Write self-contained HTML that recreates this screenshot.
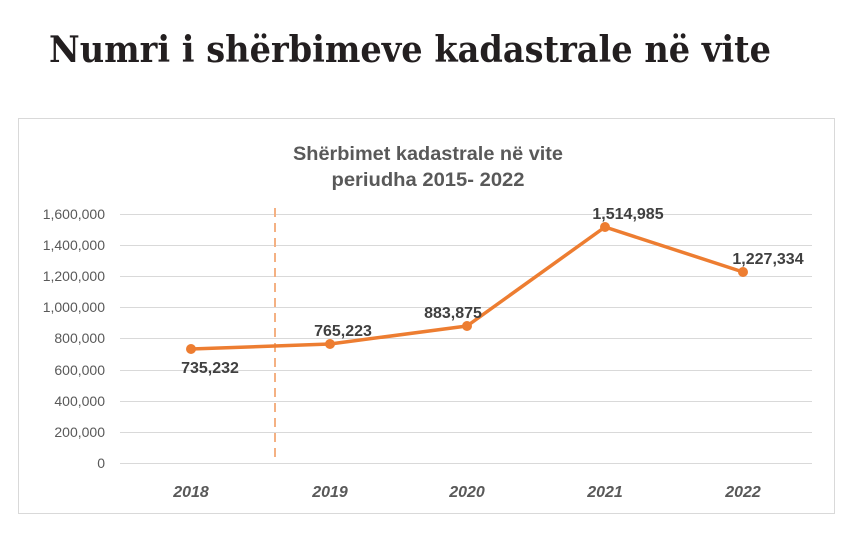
<!DOCTYPE html>
<html><head><meta charset="utf-8"><style>
html,body{margin:0;padding:0;background:#fff;}
svg{display:block;}
</style></head><body>
<svg width="852" height="550" viewBox="0 0 852 550" xmlns="http://www.w3.org/2000/svg">
<rect width="852" height="550" fill="#fff"/>
<text x="410" y="62" text-anchor="middle" font-family="DejaVu Serif, serif" font-weight="bold" font-size="36" fill="#231f20" textLength="722" lengthAdjust="spacingAndGlyphs">Numri i shërbimeve kadastrale në vite</text>
<rect x="18.5" y="118.5" width="816" height="395" fill="#fff" stroke="#d9d9d9" stroke-width="1"/>
<g font-family="Liberation Sans Narrow, Liberation Sans, sans-serif" font-size="19" fill="#595959" text-anchor="middle" font-weight="bold">
<text x="428" y="160" textLength="270" lengthAdjust="spacingAndGlyphs">Shërbimet kadastrale në vite</text>
<text x="428" y="186" textLength="193" lengthAdjust="spacingAndGlyphs">periudha 2015- 2022</text>
</g>
<g stroke="#d9d9d9" stroke-width="1">
<line x1="120" y1="214.5" x2="812" y2="214.5"/>
<line x1="120" y1="245.5" x2="812" y2="245.5"/>
<line x1="120" y1="276.5" x2="812" y2="276.5"/>
<line x1="120" y1="307.5" x2="812" y2="307.5"/>
<line x1="120" y1="338.5" x2="812" y2="338.5"/>
<line x1="120" y1="370.5" x2="812" y2="370.5"/>
<line x1="120" y1="401.5" x2="812" y2="401.5"/>
<line x1="120" y1="432.5" x2="812" y2="432.5"/>
<line x1="120" y1="463.5" x2="812" y2="463.5"/>
</g>
<g font-family="Liberation Sans, sans-serif" font-size="14" fill="#595959" text-anchor="end">
<text x="105" y="219">1,600,000</text>
<text x="105" y="250">1,400,000</text>
<text x="105" y="281">1,200,000</text>
<text x="105" y="312">1,000,000</text>
<text x="105" y="343">800,000</text>
<text x="105" y="375">600,000</text>
<text x="105" y="406">400,000</text>
<text x="105" y="437">200,000</text>
<text x="105" y="468">0</text>
</g>
<line x1="275" y1="208" x2="275" y2="458" stroke="#f4b183" stroke-width="2" stroke-dasharray="9,6"/>
<polyline points="191,349 330,344 467,326 605,227 743,272" fill="none" stroke="#ed7d31" stroke-width="3.5" stroke-linejoin="round"/>
<g fill="#ed7d31">
<circle cx="191" cy="349" r="5"/><circle cx="330" cy="344" r="5"/><circle cx="467" cy="326" r="5"/><circle cx="605" cy="227" r="5"/><circle cx="743" cy="272" r="5"/>
</g>
<g font-family="Liberation Sans, sans-serif" font-size="16" font-weight="bold" fill="#404040" text-anchor="middle">
<text x="210" y="373">735,232</text>
<text x="343" y="336">765,223</text>
<text x="453" y="318">883,875</text>
<text x="628" y="219">1,514,985</text>
<text x="768" y="264">1,227,334</text>
</g>
<g font-family="Liberation Sans, sans-serif" font-size="16" font-weight="bold" font-style="italic" fill="#595959" text-anchor="middle">
<text x="191" y="497">2018</text>
<text x="330" y="497">2019</text>
<text x="467" y="497">2020</text>
<text x="605" y="497">2021</text>
<text x="743" y="497">2022</text>
</g>
</svg>
</body></html>
